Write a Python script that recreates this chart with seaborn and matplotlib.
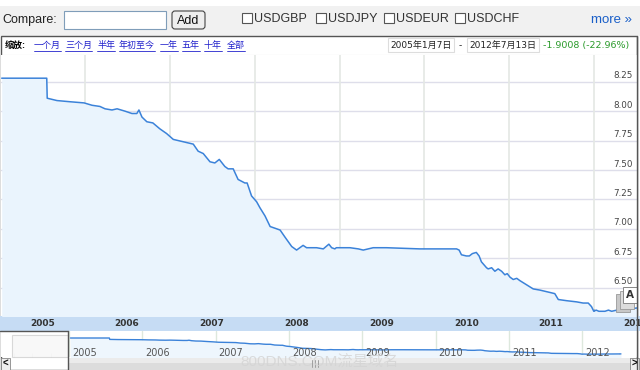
import numpy as np
import pandas as pd
import matplotlib
matplotlib.use("Agg")
import matplotlib.pyplot as plt
import matplotlib.transforms as mtransforms
from matplotlib.patches import Rectangle, FancyBboxPatch
import seaborn as sns

# USD/CNY weekly-ish closes
dates = ['2005-01-07', '2005-07-20', '2005-07-22', '2005-09-02', '2005-10-28', '2005-12-28',
         '2006-01-31', '2006-03-06', '2006-03-28', '2006-04-27', '2006-05-19', '2006-06-22',
         '2006-07-22', '2006-08-12', '2006-08-21', '2006-09-03', '2006-09-24', '2006-10-20',
         '2006-11-19', '2006-12-18', '2007-01-16', '2007-02-28', '2007-04-12', '2007-05-03',
         '2007-05-25', '2007-06-23', '2007-07-14', '2007-08-02', '2007-08-26', '2007-09-09',
         '2007-10-01', '2007-10-22', '2007-11-20', '2007-11-30', '2007-12-19', '2008-01-10',
         '2008-01-24', '2008-02-15', '2008-03-08', '2008-04-06', '2008-04-20', '2008-05-11',
         '2008-06-09', '2008-06-30', '2008-07-28', '2008-08-12', '2008-09-24', '2008-10-23',
         '2008-11-16', '2008-11-28', '2008-12-12', '2008-12-18', '2009-02-15', '2009-03-23',
         '2009-04-13', '2009-05-26', '2009-07-22', '2009-12-13', '2010-05-20', '2010-05-31',
         '2010-06-10', '2010-07-01', '2010-07-14', '2010-07-27', '2010-08-13', '2010-08-25',
         '2010-09-04', '2010-09-26', '2010-10-03', '2010-10-18', '2010-11-01', '2010-11-15',
         '2010-11-30', '2010-12-14', '2010-12-24', '2011-01-05', '2011-01-19', '2011-02-03',
         '2011-02-17', '2011-04-15', '2011-05-14', '2011-06-26', '2011-07-17', '2011-08-01',
         '2011-09-06', '2011-10-19', '2011-11-16', '2011-12-08', '2011-12-22', '2012-01-01',
         '2012-01-11', '2012-01-23', '2012-02-18', '2012-03-04', '2012-03-18', '2012-04-09',
         '2012-04-30', '2012-05-31', '2012-07-13']
rates = [8.28, 8.28, 8.11, 8.09, 8.08, 8.07, 8.05, 8.04, 8.02, 8.01,
         8.02, 8.00, 7.98, 7.98, 8.01, 7.95, 7.91, 7.90, 7.85, 7.81,
         7.76, 7.74, 7.72, 7.66, 7.64, 7.57, 7.56, 7.59, 7.53, 7.51,
         7.51, 7.42, 7.39, 7.39, 7.28, 7.23, 7.18, 7.11, 7.02, 7.00,
         6.99, 6.93, 6.85, 6.82, 6.86, 6.84, 6.84, 6.83, 6.87, 6.84,
         6.83, 6.84, 6.84, 6.83, 6.82, 6.84, 6.84, 6.83, 6.83, 6.82,
         6.78, 6.77, 6.77, 6.79, 6.80, 6.77, 6.72, 6.67, 6.66, 6.67,
         6.64, 6.66, 6.64, 6.61, 6.62, 6.59, 6.57, 6.58, 6.56, 6.49,
         6.48, 6.46, 6.45, 6.40, 6.39, 6.38, 6.37, 6.37, 6.34, 6.30,
         6.31, 6.30, 6.30, 6.31, 6.30, 6.31, 6.32, 6.32, 6.33]

years = [2005, 2006, 2007, 2008, 2009, 2010, 2011, 2012]
y_ticks = [6.50, 6.75, 7.00, 7.25, 7.50, 7.75, 8.00, 8.25]
compare_pairs = ['USDGBP', 'USDJPY', 'USDEUR', 'USDCHF']
zoom_links = ['一个月', '三个月', '半年', '年初至今', '一年', '五年', '十年', '全部']
range_start = '2005年1月7日'
range_end = '2012年7月13日'
change_text = '-1.9008 (-22.96%)'

sns.set_style("white")
plt.rcParams['font.family'] = ['Liberation Sans', 'Noto Sans CJK SC']
num_font = ['DejaVu Sans', 'Noto Sans CJK SC']

df = pd.DataFrame({'date': pd.to_datetime(dates), 'rate': rates})

W, H = 640, 370
fig = plt.figure(figsize=(6.4, 3.7), dpi=100)
fig.patch.set_facecolor('white')


def box(x0, y0, x1, y1):
    # pixel box -> figure fraction
    return [x0 / W, 1 - y1 / H, (x1 - x0) / W, (y1 - y0) / H]


# background / chrome drawn in pixel coordinates
bg = fig.add_axes([0, 0, 1, 1], zorder=0)
bg.set_xlim(0, W)
bg.set_ylim(H, 0)
bg.axis('off')

bg.add_patch(Rectangle((0, 6), W, 30, facecolor='#f1f1f1', edgecolor='none'))
bg.text(2, 20, 'Compare:', fontsize=9, color='#222', va='center')
bg.add_patch(Rectangle((64, 11), 102, 18, facecolor='white', edgecolor='#7f9db9', lw=0.8))
bg.add_patch(FancyBboxPatch((172, 11), 33, 18, boxstyle='round,pad=0,rounding_size=3',
                            facecolor='#eeeeee', edgecolor='#444', lw=0.8))
bg.text(188.5, 20.5, 'Add', fontsize=9, color='#111', ha='center', va='center')

box_x = [242, 316, 384, 455]
for bx, name in zip(box_x, compare_pairs):
    bg.add_patch(Rectangle((bx, 13), 10, 10, facecolor='white', edgecolor='#555', lw=0.8))
    bg.text(bx + 12, 18.5, name, fontsize=9, color='#333', va='center')
bg.text(591, 20, 'more »', fontsize=9.5, color='#1a5fc8', va='center')

# chart header row
bg.add_patch(Rectangle((0.5, 36), 636.5, 333.5, facecolor='white', edgecolor='#555', lw=1))
bg.plot([1, 637], [54.5, 54.5], color='#d0d0d0', lw=0.8)
bg.text(5, 45.5, '缩放:', fontsize=6.5, fontweight='bold', color='#000', va='center')
link_x = [34, 65, 97, 119, 160, 182, 204, 227]
for lx, name in zip(link_x, zoom_links):
    bg.text(lx, 45.5, name, fontsize=6.5, color='#2222cc', va='center')
    bg.plot([lx, lx + 9 * len(name)], [50.5, 50.5], color='#2222cc', lw=0.6)

bg.add_patch(Rectangle((388, 38), 66, 14, facecolor='white', edgecolor='#dddddd', lw=0.8))
bg.text(421, 45.5, range_start, fontsize=6.5, color='#222', ha='center', va='center', family=num_font)
bg.text(460, 45, '-', fontsize=7, color='#222', ha='center', va='center')
bg.add_patch(Rectangle((467, 38), 72, 14, facecolor='white', edgecolor='#dddddd', lw=0.8))
bg.text(503, 45.5, range_end, fontsize=6.5, color='#222', ha='center', va='center', family=num_font)
bg.text(543, 45.5, change_text, fontsize=6.8, color='#2a9a2a', va='center', family='DejaVu Sans')

# date band background
bg.add_patch(Rectangle((0, 316), W, 15, facecolor='#c6dcf4', edgecolor='none'))

# main chart
x_left = pd.Timestamp('2005-01-04')
x_right = pd.Timestamp('2012-07-05')
ax = fig.add_axes(box(1, 55, 637, 316), zorder=1)
ax.set_facecolor('white')
ax.fill_between(df['date'], df['rate'], 6.0, color='#eaf4fd', lw=0)
sns.lineplot(data=df, x='date', y='rate', ax=ax, color='#3b82d9', lw=1.1)
ax.set_xlim(x_left, x_right)
ax.set_ylim(6.26, 8.477)
year_starts = [pd.Timestamp(f'{y}-01-01') for y in years[1:]]
ax.set_xticks(year_starts)
ax.set_yticks(y_ticks)
ax.grid(False)
for v in y_ticks:
    ax.axhline(v, color='#dedeea', lw=1.0, zorder=0.5)
for d in year_starts:
    ax.axvline(d, color='#e4e8e4', lw=1.2, zorder=0.5)
ax.tick_params(axis='x', direction='in', length=5, width=0.8, color='#8a8a8a',
               bottom=True, labelbottom=False)
ax.tick_params(axis='y', left=False, labelleft=False)
ax.set_xlabel('')
ax.set_ylabel('')
for s in ax.spines.values():
    s.set_visible(False)
for v in y_ticks:
    ax.text(0.993, v + 0.012, f'{v:.2f}', transform=ax.get_yaxis_transform(),
            ha='right', va='bottom', fontsize=6.3, color='#444', family='DejaVu Sans')

# year labels in the band, centred on mid year
band_tr = mtransforms.blended_transform_factory(ax.transData, fig.transFigure)
for y in years:
    ax.text(pd.Timestamp(f'{y}-07-01'), 1 - 324 / H, str(y), transform=band_tr,
            ha='center', va='center', fontsize=6.5, fontweight='bold', color='#333',
            family='DejaVu Sans', clip_on=False)

# navigator
nav = fig.add_axes(box(1, 331, 637, 357), zorder=1)
nav.set_facecolor('white')
nav.fill_between(df['date'], df['rate'], 5.0, color='#eef6fd', lw=0)
sns.lineplot(data=df, x='date', y='rate', ax=nav, color='#3b82d9', lw=1.0)
nav.set_xlim(pd.Timestamp('2004-01-27'), pd.Timestamp('2012-08-19'))
nav.set_ylim(5.95, 9.14)
nav_years = [pd.Timestamp(f'{y}-01-01') for y in years]
for d, y in zip(nav_years, years):
    nav.axvline(d, color='#dde8dd', lw=1.0, zorder=0.5)
    nav.text(d + pd.Timedelta(days=15), 6.45, str(y), fontsize=7, color='#555',
             va='center', family='DejaVu Sans')
quarters = [pd.Timestamp(f'{y}-{m:02d}-01') for y in range(2004, 2013) for m in (4, 7, 10)]
nav.set_xticks(quarters)
nav.tick_params(axis='x', direction='in', length=3, width=0.6, color='#cccccc',
                bottom=True, labelbottom=False)
nav.tick_params(axis='y', left=False, labelleft=False)
nav.set_xlabel('')
nav.set_ylabel('')
for s in nav.spines.values():
    s.set_visible(False)

# overlay: unselected window, scrollbar, flag, watermark
ov = fig.add_axes([0, 0, 1, 1], zorder=3)
ov.set_xlim(0, W)
ov.set_ylim(H, 0)
ov.axis('off')
ov.patch.set_alpha(0)
ov.add_patch(Rectangle((1, 332), 67, 25, facecolor='white', edgecolor='none', alpha=0.55))
ov.add_patch(Rectangle((12, 335), 56, 22, facecolor='#f7f7f7', edgecolor='#d0d0d0', lw=0.8, alpha=0.8))
ov.plot([0, 68], [331, 331], color='#555', lw=1)
ov.plot([68, 68], [331, 370], color='#555', lw=1)
ov.add_patch(Rectangle((68, 357.5), 562, 12, facecolor='#dcdcdc', edgecolor='#b8b8b8', lw=0.6))
ov.add_patch(Rectangle((68, 357.5), 562, 5, facecolor='#ebebeb', edgecolor='none'))
for gx in (312, 315, 318):
    ov.plot([gx, gx], [360, 367], color='#a0a0a0', lw=0.7)
ov.add_patch(Rectangle((1, 357.5), 9, 12, facecolor='#eeeeee', edgecolor='#888', lw=0.6))
ov.text(5.5, 363.5, '<', fontsize=7, fontweight='bold', ha='center', va='center', color='#111')
ov.add_patch(Rectangle((630, 357.5), 9, 12, facecolor='#eeeeee', edgecolor='#888', lw=0.6))
ov.text(634.5, 363.5, '>', fontsize=7, fontweight='bold', ha='center', va='center', color='#111')
ov.text(320, 362, '800DNS.COM流星域名', fontsize=11, color='#d4d4d4', alpha=0.8,
        ha='center', va='center')

ov.add_patch(Rectangle((616, 294), 14, 18, facecolor='#c8c8c8', edgecolor='#999', lw=0.6))
ov.add_patch(Rectangle((619.5, 290.5), 14, 18, facecolor='#dcdcdc', edgecolor='#999', lw=0.6))
ov.add_patch(Rectangle((623, 287), 14, 16, facecolor='white', edgecolor='#888', lw=0.7))
ov.text(630, 295.5, 'A', fontsize=7.5, fontweight='bold', ha='center', va='center', color='#333',
        family='DejaVu Sans')
ov.plot([637, 637], [36, 370], color='#555', lw=1)

fig.savefig('out.png', dpi=100)
